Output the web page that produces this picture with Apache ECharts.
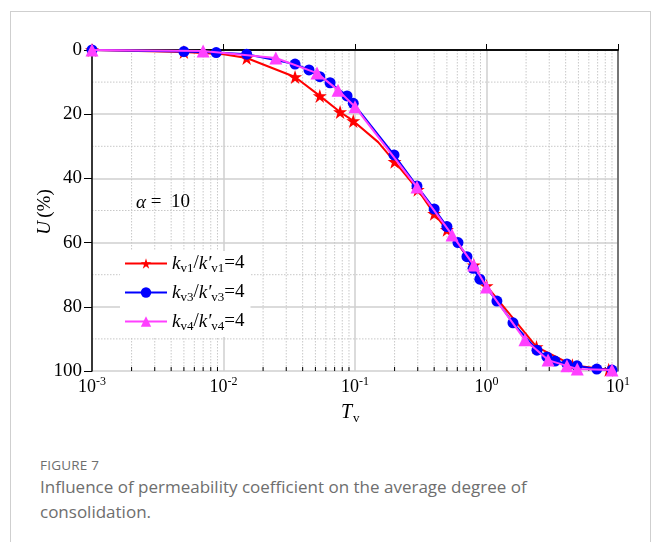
<!DOCTYPE html>
<html>
<head>
<meta charset="utf-8">
<script src="https://cdn.jsdelivr.net/npm/echarts@6/dist/echarts.min.js"></script>
<style>
  html, body { margin:0; padding:0; background:#fff; }
  #frame { position:absolute; left:10px; top:11px; width:641px; height:600px; border:1px solid #cfcfcf; box-sizing:border-box; }
  #chart { position:absolute; left:0; top:0; width:656px; height:440px; }
  #cap { position:absolute; left:40px; top:455px; font-family:"Open Sans", sans-serif; color:#6e6e6e; }
  #cap .fig { font-size:13.5px; letter-spacing:0.2px; line-height:20px; }
  #cap .txt { font-size:17px; line-height:24.5px; width:600px; }
</style>
</head>
<body>
<div id="frame"></div>
<div id="chart"></div>
<div id="cap"><div class="fig">FIGURE 7</div><div class="txt">Influence of permeability coefficient on the average degree of<br>consolidation.</div></div>
<script>
// ---- data (T_v, U %) ----
const namesList = ['kv1', 'kv3', 'kv4'];
const seriesKv1 = [[0.001,0],[0.005,0.6],[0.01,1.3],[0.015,2.5],[0.035,8.4],[0.054,14.3],[0.077,19.3],[0.097,22.1],[0.15,28.7],[0.2,34.8],[0.3,43.5],[0.4,51],[0.5,56],[0.8,67],[1.0,73.5],[2.4,92.5],[4.5,98.2],[8.5,99.6]];
const hiddenKv1 = [0.01, 0.15];
const seriesKv3 = [[0.001,0],[0.005,0.5],[0.0088,0.8],[0.015,1.3],[0.035,4.4],[0.0447,6.2],[0.054,8.3],[0.0646,10.2],[0.087,14.3],[0.097,16.6],[0.198,32.7],[0.296,42.4],[0.4,49.5],[0.5,55],[0.607,60],[0.71,64.4],[0.79,68],[0.89,71.4],[1.2,78.2],[1.59,85],[2.42,93.5],[2.88,95.6],[3.32,96.9],[4.09,97.8],[4.88,98.4],[6.9,99.4],[9.0,99.7]];
const seriesKv4 = [[0.001,0],[0.007,0.3],[0.025,2.5],[0.0514,7.2],[0.0743,12.5],[0.1,17.7],[0.296,42.7],[0.547,57.6],[0.80,67],[1.0,73.8],[1.96,90.3],[2.94,96.6],[4.09,98.4],[4.9,99.4],[9.0,99.7]];
const xMinorTicks = [];
[0.001,0.01,0.1,1].forEach(d => { for (let k=2;k<=9;k++) xMinorTicks.push(+(d*k).toPrecision(3)); });
const yMinorTicks = [10,30,50,70,90];

const serif = '"Liberation Serif", "Times New Roman", serif';
const chart = echarts.init(document.getElementById('chart'));

const minorData = xMinorTicks.map(v => [v, 0, 0]).concat(yMinorTicks.map(v => [0.001, v, 1]));

function legendLabel(name) {
  const n = name.slice(2);
  return '{i|k}{s|v' + n + '}{t|/}{i|k′}{s|v' + n + '}{t|=4}';
}
const legendRich = {
  i: { fontFamily: serif, fontStyle: 'italic', fontSize: 19, color: '#000' },
  s: { fontFamily: serif, fontSize: 13, color: '#000', padding: [10, 0, 0, 0] },
  t: { fontFamily: serif, fontSize: 19, color: '#000' }
};

chart.setOption({
  animation: false,
  grid: { left: 92, top: 50, width: 526, height: 321, containLabel: false },
  xAxis: [{
    type: 'log', logBase: 10, min: 0.001, max: 10,
    axisLine: { show: true, lineStyle: { color: '#000', width: 1.5 } },
    axisTick: { show: true, inside: true, length: 6, lineStyle: { color: '#000', width: 1 } },
    splitLine: { show: true, lineStyle: { color: '#cfcfcf', width: 1.5 } },
    axisLabel: {
      margin: 5, color: '#000',
      formatter: v => '{b|10}{e|' + Math.round(Math.log10(v)) + '}',
      rich: {
        b: { fontFamily: serif, fontSize: 18, color: '#000' },
        e: { fontFamily: serif, fontSize: 12, color: '#000', padding: [0, 0, 10, 0] }
      }
    }
  }, {
    type: 'log', logBase: 10, min: 0.001, max: 10, position: 'top',
    axisLine: { show: true, lineStyle: { color: '#000', width: 1.5 } },
    axisTick: { show: false }, axisLabel: { show: false }, splitLine: { show: false }
  }],
  yAxis: [{
    type: 'value', inverse: true, min: 0, max: 100, interval: 20,
    axisLine: { show: true, lineStyle: { color: '#000', width: 1.5 } },
    axisTick: { show: true, inside: false, length: 8, lineStyle: { color: '#000', width: 1 } },
    splitLine: { show: true, lineStyle: { color: '#cfcfcf', width: 1.5 } },
    axisLabel: { margin: 10, color: '#000', fontFamily: serif, fontSize: 19 }
  }, {
    type: 'value', inverse: true, min: 0, max: 100, position: 'right',
    axisLine: { show: true, lineStyle: { color: '#555', width: 1.5 } },
    axisTick: { show: false }, axisLabel: { show: false }, splitLine: { show: false }
  }],
  legend: {
    data: namesList, orient: 'vertical', left: 120, top: 251,
    itemWidth: 42, itemHeight: 13, itemGap: 8,
    backgroundColor: '#fff', padding: [3, 6, 4, 4],
    formatter: legendLabel,
    textStyle: { rich: legendRich, fontSize: 19 }
  },
  graphic: [
    { type: 'text', left: 136, top: 193, z: 100, style: {
      text: '{a|α}{b| =  10}',
      rich: {
        a: { fontFamily: serif, fontStyle: 'italic', fontSize: 19, fill: '#000' },
        b: { fontFamily: serif, fontSize: 19, fill: '#000' }
      } } },
    { type: 'text', x: 45, y: 212, rotation: Math.PI / 2, z: 100, style: {
      text: '{a|U} {b|(%)}', align: 'center', verticalAlign: 'middle',
      rich: {
        a: { fontFamily: serif, fontStyle: 'italic', fontSize: 19, fill: '#000' },
        b: { fontFamily: serif, fontSize: 19, fill: '#000' }
      } } },
    { type: 'text', left: 341, top: 403, z: 100, style: {
      text: '{a|T}{b|v}',
      rich: {
        a: { fontFamily: serif, fontStyle: 'italic', fontSize: 20, fill: '#000' },
        b: { fontFamily: serif, fontSize: 13, fill: '#000', padding: [12, 0, 0, 1] }
      } } }
  ],
  series: [
    {
      type: 'custom', name: 'minor', silent: true, z: 0, clip: false,
      data: minorData,
      renderItem: function (params, api) {
        const t = api.value(2);
        if (t === 0) {
          const x = api.value(0);
          const p1 = api.coord([x, 0]), p2 = api.coord([x, 100]);
          return { type: 'group', children: [
            { type: 'line', shape: { x1: p1[0], y1: p1[1], x2: p2[0], y2: p2[1] },
              style: { stroke: '#c8c8c8', lineWidth: 1, lineDash: [1.5, 1.5] } },
            { type: 'line', shape: { x1: p2[0], y1: p2[1], x2: p2[0], y2: p2[1] - 4 },
              style: { stroke: '#000', lineWidth: 1 } }
          ] };
        } else {
          const y = api.value(1);
          const p1 = api.coord([0.001, y]), p2 = api.coord([10, y]);
          return { type: 'line', shape: { x1: p1[0], y1: p1[1], x2: p2[0], y2: p2[1] },
            style: { stroke: '#c8c8c8', lineWidth: 1, lineDash: [1.5, 1.5] } };
        }
      }
    },
    {
      name: 'kv1', type: 'line', z: 3,
      data: seriesKv1.map(p => hiddenKv1.indexOf(p[0]) >= 0 ? { value: p, symbol: 'none' } : p),
      symbol: 'path://M50,0 L61.2,34.5 L97.6,34.5 L68.2,55.9 L79.4,90.5 L50,69.1 L20.6,90.5 L31.8,55.9 L2.4,34.5 L38.8,34.5 Z',
      symbolSize: 14, showAllSymbol: true,
      itemStyle: { color: '#ff0000' }, lineStyle: { color: '#ff0000', width: 2 }
    },
    {
      name: 'kv3', type: 'line', z: 4,
      data: seriesKv3, symbol: 'circle', symbolSize: 11, showAllSymbol: true,
      itemStyle: { color: '#0000ff' }, lineStyle: { color: '#0000ff', width: 2 }
    },
    {
      name: 'kv4', type: 'line', z: 5,
      data: seriesKv4, symbol: 'triangle', symbolSize: 13, showAllSymbol: true,
      itemStyle: { color: '#ff40ff' }, lineStyle: { color: '#ff40ff', width: 2 }
    }
  ]
});
</script>
</body>
</html>
